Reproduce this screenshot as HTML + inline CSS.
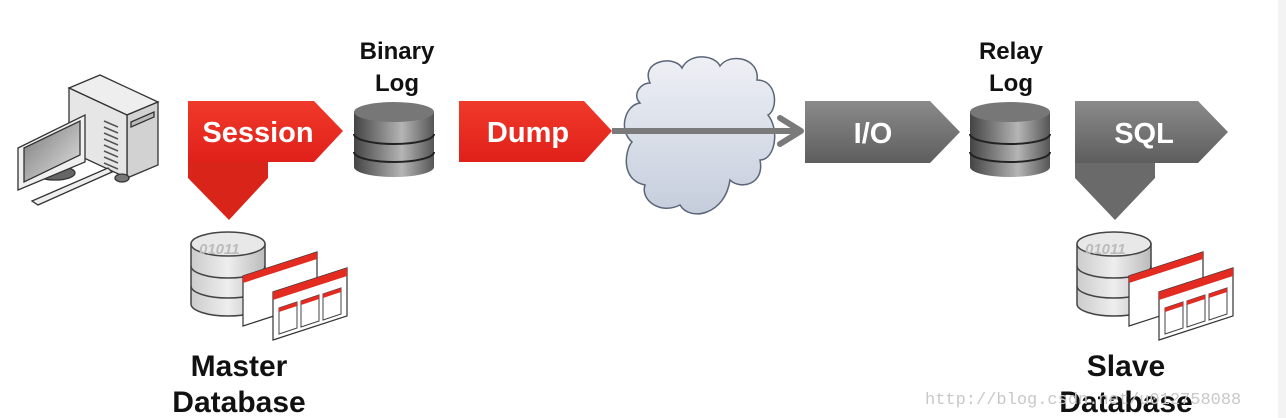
<!DOCTYPE html>
<html><head><meta charset="utf-8"><style>
html,body{margin:0;padding:0;background:#fff;}
svg{display:block}
text{font-family:"Liberation Sans",Arial,sans-serif;font-weight:bold}
</style></head><body>
<svg width="1286" height="418" viewBox="0 0 1286 418" xmlns="http://www.w3.org/2000/svg">
<defs>
<linearGradient id="red" x1="0" y1="0" x2="0" y2="1"><stop offset="0" stop-color="#f03a2a"/><stop offset="1" stop-color="#e0201a"/></linearGradient>
<linearGradient id="gray" x1="0" y1="0" x2="0" y2="1"><stop offset="0" stop-color="#8a8a8a"/><stop offset="1" stop-color="#5e5e5e"/></linearGradient>
<linearGradient id="cyl" x1="0" y1="0" x2="1" y2="0"><stop offset="0" stop-color="#444"/><stop offset="0.6" stop-color="#b5b5b5"/><stop offset="1" stop-color="#555"/></linearGradient>
<linearGradient id="cloud" x1="0" y1="0" x2="0" y2="1"><stop offset="0" stop-color="#eef0f5"/><stop offset="1" stop-color="#c5cddc"/></linearGradient>
<linearGradient id="mon" x1="0" y1="0" x2="1" y2="1"><stop offset="0" stop-color="#777"/><stop offset="1" stop-color="#e5e5e5"/></linearGradient>
<linearGradient id="db" x1="0" y1="0" x2="1" y2="0"><stop offset="0" stop-color="#ccc"/><stop offset="0.5" stop-color="#eee"/><stop offset="1" stop-color="#bbb"/></linearGradient>
<g id="cylg">
<path d="M0,10 v55 a40,10 0 0 0 80,0 v-55 z" fill="url(#cyl)"/>
<ellipse cx="40" cy="10" rx="40" ry="10" fill="#777"/>
<path d="M0,32 a40,10 0 0 0 80,0" fill="none" stroke="#222" stroke-width="2"/>
<path d="M0,50 a40,10 0 0 0 80,0" fill="none" stroke="#222" stroke-width="2"/>
</g>
<g id="dbg">
<path d="M0,12 v60 a37,12 0 0 0 74,0 v-60 z" fill="url(#db)" stroke="#444" stroke-width="1.5"/>
<ellipse cx="37" cy="12" rx="37" ry="12" fill="#e8e8e8" stroke="#444" stroke-width="1.5"/>
<path d="M0,34 a37,12 0 0 0 74,0 M0,54 a37,12 0 0 0 74,0" fill="none" stroke="#444" stroke-width="1.5"/>
<text x="8" y="22" font-size="15" fill="#bbb" font-style="italic">01011</text>
<path d="M52,44 L126,20 V70 L52,94 Z" fill="#fff" stroke="#333" stroke-width="1.2"/>
<path d="M52,44 L126,20 V27 L52,51 Z" fill="#e32b22"/>
<path d="M82,60 L156,36 V84 L82,108 Z" fill="#fff" stroke="#333" stroke-width="1.2"/>
<path d="M82,60 L156,36 V44 L82,68 Z" fill="#e32b22"/>
<path d="M88,76 l18,-6 v26 l-18,6z M110,69 l18,-6 v26 l-18,6z M132,62 l18,-6 v26 l-18,6z" fill="#fff" stroke="#444"/>
<path d="M88,76 l18,-6 v4 l-18,6z M110,69 l18,-6 v4 l-18,6z M132,62 l18,-6 v4 l-18,6z" fill="#e32b22"/>
</g>
</defs>
<rect x="1278" y="0" width="8" height="418" fill="#f3f3f3"/>

<!-- computer -->
<g stroke="#333" stroke-width="1.3">
<path d="M69,88 L100,75 L158,102 L127,115 Z" fill="#eee"/>
<path d="M127,115 L158,102 V165 L127,178 Z" fill="#d2d2d2"/>
<path d="M69,88 L127,115 V178 L69,151 Z" fill="#e6e6e6"/>
<path d="M131,122 L154,112 V117 L131,127Z" fill="#bbb"/>
<ellipse cx="55" cy="173" rx="20" ry="7" fill="#666"/>
<path d="M18,148 L85,115 V162 L18,190 Z" fill="#f0f0f0"/>
<path d="M24,148 L80,121 V155 L24,182 Z" fill="url(#mon)"/>
<path d="M32,201 L108,168 L112,172 L38,205 Z" fill="#eee"/>
<ellipse cx="122" cy="178" rx="7" ry="4" fill="#777"/>
</g>
<g stroke="#555" stroke-width="1.5"><path d="M104,121 l14,6 M104,127 l14,6 M104,133 l14,6 M104,139 l14,6 M104,145 l14,6 M104,151 l14,6 M104,157 l14,6 M104,163 l14,6"/></g>

<!-- Session -->
<path d="M188,162 H268 V178 L229,220 L188,178 Z" fill="#d92419"/>
<path d="M188,101 H314 L343,131 L314,162 H188 Z" fill="url(#red)"/>
<text x="258" y="142" font-size="29" fill="#fff" text-anchor="middle">Session</text>

<text x="397" y="59" font-size="24" text-anchor="middle" fill="#111">Binary</text>
<text x="397" y="91" font-size="24" text-anchor="middle" fill="#111">Log</text>
<use href="#cylg" x="354" y="102"/>

<!-- Dump -->
<path d="M459,101 H584 L612,131 L584,162 H459 Z" fill="url(#red)"/>
<text x="528" y="142" font-size="29" fill="#fff" text-anchor="middle">Dump</text>

<!-- cloud -->
<path d="M650,83 C640,60 675,55 682,68 C690,52 715,55 720,66 C730,52 760,58 757,80 C778,80 778,110 768,115 C780,130 775,160 760,160 C765,185 740,190 730,180 C725,215 690,222 680,205 C660,215 640,200 645,185 C620,180 625,150 632,142 C618,130 625,105 640,103 C632,95 640,83 650,83 Z" fill="url(#cloud)" stroke="#5a6577" stroke-width="1.5"/>
<line x1="612" y1="131" x2="800" y2="131" stroke="#7a7a7a" stroke-width="6"/>
<path d="M780,118 L801,131 L780,144" fill="none" stroke="#7a7a7a" stroke-width="6" stroke-linejoin="round" stroke-linecap="round"/>

<!-- I/O -->
<path d="M805,101 H930 L960,132 L930,163 H805 Z" fill="url(#gray)"/>
<text x="873" y="143" font-size="29" fill="#fff" text-anchor="middle">I/O</text>

<text x="1011" y="59" font-size="24" text-anchor="middle" fill="#111">Relay</text>
<text x="1011" y="91" font-size="24" text-anchor="middle" fill="#111">Log</text>
<use href="#cylg" x="970" y="102"/>

<!-- SQL -->
<path d="M1075,162 H1155 V178 L1115,220 L1075,178 Z" fill="#6a6a6a"/>
<path d="M1075,101 H1198 L1228,132 L1198,163 H1075 Z" fill="url(#gray)"/>
<text x="1144" y="143" font-size="29" fill="#fff" text-anchor="middle">SQL</text>

<use href="#dbg" x="191" y="232"/>
<use href="#dbg" x="1077" y="232"/>

<text x="239" y="376" font-size="30" text-anchor="middle" fill="#111">Master</text>
<text x="239" y="412" font-size="30" text-anchor="middle" fill="#111">Database</text>
<text x="1126" y="376" font-size="30" text-anchor="middle" fill="#111">Slave</text>
<text x="1126" y="412" font-size="30" text-anchor="middle" fill="#111">Database</text>
<text x="925" y="404" font-size="17" fill="#c8c8c8" style="font-family:'Liberation Mono',monospace;font-weight:normal">http://blog.csdn.net/u012758088</text>
</svg>
</body></html>
